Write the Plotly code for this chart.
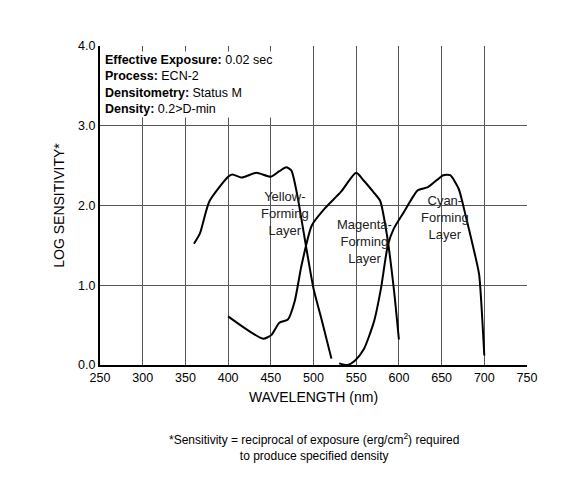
import plotly.graph_objects as go

yellow_x = [360,367,378,400,405,416,433,450,460,468,474,481,489,500,510,521]
yellow_y = [1.52,1.65,2.05,2.36,2.39,2.35,2.41,2.36,2.43,2.48,2.44,2.13,1.63,0.96,0.55,0.08]
magenta_x = [400,441,451,460,470,478,486,498,513,532,550,559,570,578,586,594,600]
magenta_y = [0.61,0.33,0.38,0.53,0.57,0.80,1.25,1.75,1.96,2.17,2.41,2.31,2.17,2.06,1.63,0.96,0.32]
cyan_x = [530,540,549,559,571,579,587,594,606,622,634,652,660,670,678,690,694,700]
cyan_y = [0.02,0.0,0.06,0.2,0.55,0.96,1.5,1.71,1.92,2.19,2.23,2.38,2.38,2.21,1.88,1.34,1.13,0.12]

F = "Liberation Sans, Arial, sans-serif"
fig = go.Figure()
for xs, ys in [(yellow_x, yellow_y), (magenta_x, magenta_y), (cyan_x, cyan_y)]:
    fig.add_trace(go.Scatter(x=xs, y=ys, mode="lines", line=dict(color="black", width=2, shape="spline", smoothing=0.6), showlegend=False, hoverinfo="skip"))

for x, y, t in [(467, 1.9, "Yellow-<br>Forming<br>Layer"), (560, 1.55, "Magenta-<br>Forming<br>Layer"), (654, 1.85, "Cyan-<br>Forming<br>Layer")]:
    fig.add_annotation(x=x, y=y, text=t, showarrow=False, font=dict(family=F, size=13, color="#222"))

fig.add_annotation(xref="paper", yref="paper", x=0.008, y=0.985, xanchor="left", yanchor="top", align="left",
    text="<b>Effective Exposure:</b> 0.02 sec<br><b>Process:</b> ECN-2<br><b>Densitometry:</b> Status M<br><b>Density:</b> 0.2>D-min",
    showarrow=False, bgcolor="white", font=dict(family=F, size=12.5, color="black"))

fig.add_annotation(xref="paper", yref="paper", x=0.5, y=-0.2, yanchor="top", showarrow=False,
    text="*Sensitivity = reciprocal of exposure (erg/cm<sup>2</sup>) required<br>to produce specified density",
    font=dict(family=F, size=12, color="black"))

fig.update_layout(width=561, height=479, margin=dict(l=92, r=42, t=38, b=122),
    plot_bgcolor="white", paper_bgcolor="white", font=dict(family=F, size=12.5, color="black"))
fig.update_xaxes(range=[250, 750], dtick=50, showgrid=True, gridcolor="#555", gridwidth=1,
    showline=True, linecolor="black", linewidth=2, ticks="", zeroline=False,
    title=dict(text="WAVELENGTH (nm)", font=dict(size=14), standoff=8))
fig.update_yaxes(range=[0, 4], dtick=1, tickformat=".1f", showgrid=True, gridcolor="#555", gridwidth=1,
    showline=True, linecolor="black", linewidth=2, ticks="", zeroline=False,
    title=dict(text="LOG SENSITIVITY*", font=dict(size=14), standoff=10))
fig.write_html("out.html")
